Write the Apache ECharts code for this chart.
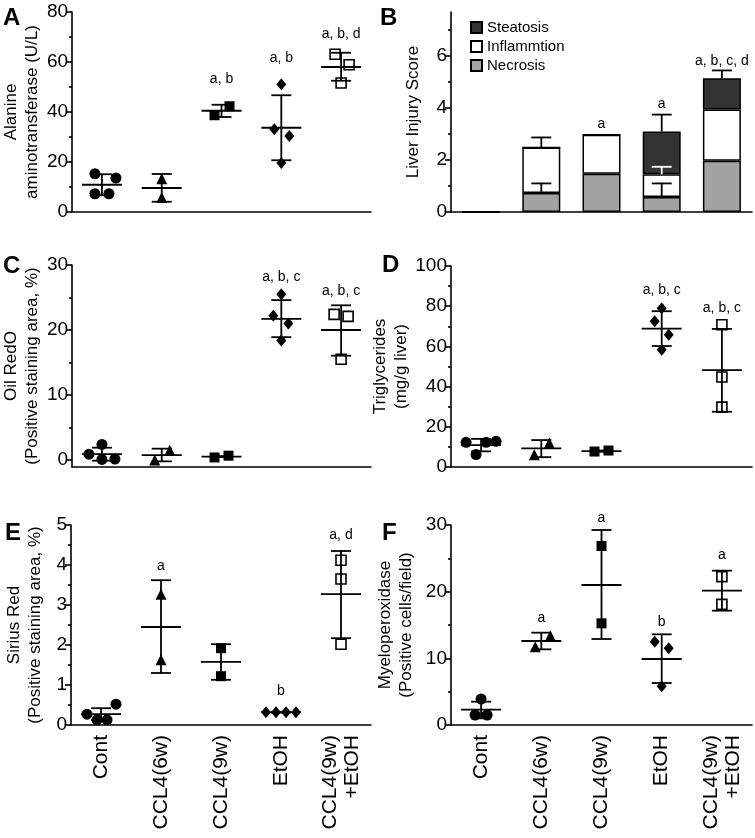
<!DOCTYPE html>
<html><head><meta charset="utf-8">
<script src="https://cdn.jsdelivr.net/npm/echarts@6/dist/echarts.min.js"></script>
<style>html,body{margin:0;padding:0;background:#fff}#c{width:755px;height:838px}</style>
</head><body><div id="c"></div>
<script>
// ---------------- DATA ----------------
const categories = ['Cont', 'CCL4(6w)', 'CCL4(9w)', 'EtOH', 'CCL4(9w)\n+EtOH'];

// A: Alanine aminotransferase (U/L)
const alt_points = [[15.3, 13.6, 7.3, 7.3], [13.3, 5.8], [38.7, 42.3], [51.1, 33.1, 30.4, 19.6], [63.1, 58.9, 51.6]];
const alt_mean  = [10.9, 9.6, 40.5, 33.7, 58.0];
const alt_upper = [15.1, 15.2, 42.9, 46.7, 63.7];
const alt_lower = [6.7, 4.1, 38.0, 20.7, 52.5];
const alt_sig   = ['', '', 'a, b', 'a, b', 'a, b, d'];
const alt_sigY  = [null, null, 53, 61.6, 71.3];
const alt_ticks = [0, 20, 40, 60, 80];
const alt_minor = [10, 30, 50, 70];

// B: Liver Injury Score (stacked)
const inj_necrosis     = [0, 0.73, 1.47, 0.58, 1.97];
const inj_inflammation = [0, 1.75, 1.50, 0.87, 1.98];
const inj_steatosis    = [0, 0, 0, 1.65, 1.20];
const inj_necrosis_err      = [null, 1.10, null, 1.10, null];
const inj_inflammation_err  = [null, null, null, 1.74, null];
const inj_total_err         = [null, 2.87, null, 3.75, 5.45];
const inj_sig   = ['', '', 'a', 'a', 'a, b, c, d'];
const inj_sigY  = [null, null, 3.4, 4.15, 5.8];
const inj_ticks = [0, 2, 4, 6];
const inj_minor = [1, 3, 5, 7];

// C: Oil RedO (Positive staining area, %)
const oil_points = [[0.9, 2.4, 0.1, 0.15], [0.0, 1.5], [0.4, 0.67], [25.5, 22.2, 21.0, 18.4], [22.4, 22.1, 15.5]];
const oil_mean  = [0.9, 0.77, 0.53, 21.7, 20.0];
const oil_upper = [1.9, 1.75, 0.6, 24.6, 23.8];
const oil_lower = [-0.1, -0.2, 0.45, 18.9, 16.05];
const oil_sig   = ['', '', '', 'a, b, c', 'a, b, c'];
const oil_sigY  = [null, null, null, 28.2, 26.0];
const oil_ticks = [0, 10, 20, 30];
const oil_minor = [5, 15, 25];

// D: Triglycerides (mg/g liver)
const tg_points = [[12.3, 6.2, 12.3, 12.8], [6.1, 12.0], [7.7, 8.2], [79, 72.5, 65.8, 58.3], [70.8, 44.8, 29.8]];
const tg_mean  = [10.9, 9.3, 7.9, 68.8, 48.2];
const tg_upper = [14.0, 13.4, 8.2, 77.5, 68.7];
const tg_lower = [7.8, 4.9, 7.6, 60.2, 27.5];
const tg_sig   = ['', '', '', 'a, b, c', 'a, b, c'];
const tg_sigY  = [null, null, null, 87.8, 79];
const tg_ticks = [0, 20, 40, 60, 80, 100];
const tg_minor = [10, 30, 50, 70, 90];

// E: Sirius Red (Positive staining area, %)
const sr_points = [[0.27, 0.13, 0.13, 0.52], [3.27, 1.63], [1.92, 1.22], [0.32, 0.32, 0.32, 0.32], [4.12, 3.65, 2.02]];
const sr_mean  = [0.27, 2.45, 1.58, 0.32, 3.27];
const sr_upper = [0.42, 3.62, 2.02, 0.33, 4.35];
const sr_lower = [0.12, 1.30, 1.13, 0.31, 2.17];
const sr_sig   = ['', 'a', '', 'b', 'a, d'];
const sr_sigY  = [null, 3.98, null, 0.85, 4.75];
const sr_ticks = [0, 1, 2, 3, 4, 5];
const sr_minor = [0.5, 1.5, 2.5, 3.5, 4.5];

// F: Myeloperoxidase (Positive cells/field)
const mpo_points = [[3.9, 1.5, 1.5], [11.75, 13.4], [26.85, 15.25], [12.5, 11.5, 5.8], [22.25, 18.1]];
const mpo_mean  = [2.3, 12.6, 21.0, 9.9, 20.15];
const mpo_upper = [3.5, 13.85, 29.25, 13.6, 23.15];
const mpo_lower = [1.0, 11.35, 12.9, 6.3, 17.15];
const mpo_sig   = ['', 'a', 'a', 'b', 'a'];
const mpo_sigY  = [null, 16, 31, 15.4, 25.5];
const mpo_ticks = [0, 10, 20, 30];
const mpo_minor = [5, 15, 25];

// ---------------- STYLE / LAYOUT ----------------
const FONT = '"Liberation Sans", Arial, Helvetica, sans-serif';
const INK = '#000000';
const LW = 1.8;

// horizontal spread of dots within a group (pixels)
const jitA = [[-7, 14, -7, 7], [0, 0], [-7, 8], [0, -7, 8, 0], [-6, 8, 0]];
const jitC = [[-13, 0, 0, 13], [-7, 8], [-7, 7], [0, -8, 7, 0], [-7, 7, 0]];
const jitD = [[-15, -5, 5, 15], [-7, 8], [-7, 7], [0, -7, 7, 0], [0, 0, 0]];
const jitE = [[-14, -4, 6, 15], [0, 0], [0, 0], [-15, -5, 5, 15], [0, 0, 0]];
const jitF = [[0, -6, 6], [-6, 9], [0, 0], [-7, 7, 0], [0, 0]];

const groupSymbols = [
  { symbol: 'circle', symbolSize: 11, itemStyle: { color: INK, opacity: 1 } },
  { symbol: 'triangle', symbolSize: 11, itemStyle: { color: INK, opacity: 1 } },
  { symbol: 'rect', symbolSize: 10, itemStyle: { color: INK, opacity: 1 } },
  { symbol: 'diamond', symbolSize: [10, 12], itemStyle: { color: INK, opacity: 1 } },
  { symbol: 'rect', symbolSize: 10, itemStyle: { color: 'rgba(0,0,0,0)', borderColor: INK, borderWidth: 1.6, opacity: 1 } }
];

const panels = [
  { letter: 'A', grid: { left: 71, top: 12, width: 300, height: 200 }, min: 0, max: 80, ticks: alt_ticks, minor: alt_minor,
    name: 'Alanine\naminotransferase (U/L)', nameGap: 24, pts: alt_points, mean: alt_mean, up: alt_upper, lo: alt_lower, sig: alt_sig, sigY: alt_sigY, jit: jitA, labels: false },
  { letter: 'B', grid: { left: 451, top: 12, width: 301, height: 200 }, min: 0, max: 7.7, ticks: inj_ticks, minor: inj_minor,
    name: 'Liver Injury Score', nameGap: 27, bars: true, sig: inj_sig, sigY: inj_sigY, labels: false },
  { letter: 'C', grid: { left: 71, top: 265, width: 300, height: 202 }, min: -1.07, max: 30, ticks: oil_ticks, minor: oil_minor,
    name: 'Oil RedO\n(Positive staining area, %)', nameGap: 25, pts: oil_points, mean: oil_mean, up: oil_upper, lo: oil_lower, sig: oil_sig, sigY: oil_sigY, jit: jitC, labels: false },
  { letter: 'D', grid: { left: 451, top: 266, width: 301, height: 201 }, min: 0, max: 100, ticks: tg_ticks, minor: tg_minor,
    name: 'Triglycerides\n(mg/g liver)', nameGap: 21, pts: tg_points, mean: tg_mean, up: tg_upper, lo: tg_lower, sig: tg_sig, sigY: tg_sigY, jit: jitD, labels: false },
  { letter: 'E', grid: { left: 71, top: 525, width: 300, height: 200 }, min: 0, max: 5, ticks: sr_ticks, minor: sr_minor,
    name: 'Sirius Red\n(Positive staining area, %)', nameGap: 25, pts: sr_points, mean: sr_mean, up: sr_upper, lo: sr_lower, sig: sr_sig, sigY: sr_sigY, jit: jitE, labels: true },
  { letter: 'F', grid: { left: 451, top: 525, width: 301, height: 200 }, min: 0, max: 30, ticks: mpo_ticks, minor: mpo_minor,
    name: 'Myeloperoxidase\n(Positive cells/field)', nameGap: 34, pts: mpo_points, mean: mpo_mean, up: mpo_upper, lo: mpo_lower, sig: mpo_sig, sigY: mpo_sigY, jit: jitF, labels: true }
];

const letterPos = [[3, 6], [380, 6], [3, 254], [382, 253], [5, 521], [382, 521]];

// ---------------- BUILD OPTION ----------------
const grids = [], xAxes = [], yAxes = [], series = [], titles = [];

function whiskerItem(x, yTop, yBot, half, color, capBottom) {
  const items = [{ type: 'line', shape: { x1: x, y1: yBot, x2: x, y2: yTop }, style: { stroke: color, lineWidth: LW } },
                 { type: 'line', shape: { x1: x - half, y1: yTop, x2: x + half, y2: yTop }, style: { stroke: color, lineWidth: LW } }];
  if (capBottom) items.push({ type: 'line', shape: { x1: x - half, y1: yBot, x2: x + half, y2: yBot }, style: { stroke: color, lineWidth: LW } });
  return items;
}

panels.forEach((p, i) => {
  grids.push(Object.assign({ containLabel: false }, p.grid));
  titles.push({ text: p.letter, left: letterPos[i][0], top: letterPos[i][1], padding: 0,
    textStyle: { fontSize: 24, fontWeight: 'bold', fontFamily: FONT, color: INK } });
  xAxes.push({
    type: 'category', gridIndex: i, data: categories, boundaryGap: true,
    axisLine: { onZero: false, lineStyle: { color: INK, width: 1.6 } },
    axisTick: { alignWithLabel: true, length: 5, lineStyle: { color: INK, width: 1.6 } },
    axisLabel: { show: p.labels, interval: 0, rotate: 90, fontSize: 21, lineHeight: 22, margin: 10, color: INK, fontFamily: FONT },
    splitLine: { show: false }
  });
  const ym = 2 * i;
  yAxes.push({
    type: 'value', gridIndex: i, position: 'left', min: p.min, max: p.max,
    axisLine: { show: true, lineStyle: { color: INK, width: 1.6 } },
    axisTick: { show: true, length: 6, customValues: p.ticks, lineStyle: { color: INK, width: 1.6 } },
    axisLabel: { customValues: p.ticks, fontSize: 19, margin: 4, color: INK, fontFamily: FONT },
    splitLine: { show: false },
    name: p.name, nameLocation: 'middle', nameGap: p.nameGap,
    nameTextStyle: { fontSize: 17, lineHeight: 21, color: INK, fontFamily: FONT }
  });
  yAxes.push({
    type: 'value', gridIndex: i, position: 'left', min: p.min, max: p.max,
    axisLine: { show: false },
    axisTick: { show: true, length: 3, customValues: p.minor, lineStyle: { color: INK, width: 1.6 } },
    axisLabel: { show: false }, splitLine: { show: false }
  });

  if (p.bars) {
    const stackDefs = [
      { name: 'Necrosis', data: inj_necrosis, color: '#a3a3a3' },
      { name: 'Inflammtion', data: inj_inflammation, color: '#ffffff' },
      { name: 'Steatosis', data: inj_steatosis, color: '#333333' }
    ];
    stackDefs.forEach(s => series.push({
      type: 'bar', name: s.name, stack: 'injury', xAxisIndex: i, yAxisIndex: ym, barWidth: 38,
      data: s.data, itemStyle: { color: s.color, borderColor: INK, borderWidth: 1.5, opacity: 1 }, z: 2
    }));
    const errData = [];
    categories.forEach((c, g) => {
      const b1 = inj_necrosis[g], b2 = b1 + inj_inflammation[g], b3 = b2 + inj_steatosis[g];
      if (inj_necrosis_err[g] != null) errData.push([g, b1, inj_necrosis_err[g], 0]);
      if (inj_inflammation_err[g] != null) errData.push([g, b2, inj_inflammation_err[g], inj_steatosis[g] > 0 ? 1 : 0]);
      if (inj_total_err[g] != null) errData.push([g, b3, inj_total_err[g], 0]);
    });
    series.push({
      type: 'custom', xAxisIndex: i, yAxisIndex: ym, z: 5, data: errData,
      renderItem: (params, api) => {
        const base = api.coord([api.value(0), api.value(1)]);
        const top = api.coord([api.value(0), api.value(2)]);
        const col = api.value(3) === 1 ? '#ffffff' : INK;
        return { type: 'group', children: whiskerItem(base[0], top[1], base[1], 10, col, false) };
      }
    });
  } else {
    p.pts.forEach((vals, g) => {
      const sym = groupSymbols[g];
      series.push({
        type: 'scatter', xAxisIndex: i, yAxisIndex: ym, clip: false, z: 3,
        symbol: sym.symbol, symbolSize: sym.symbolSize, itemStyle: sym.itemStyle,
        data: vals.map((v, k) => ({ value: [g, v], symbolOffset: [p.jit[g][k], 0] }))
      });
    });
    series.push({
      type: 'custom', xAxisIndex: i, yAxisIndex: ym, z: 5,
      data: p.mean.map((m, g) => [g, m, p.lo[g], p.up[g]]),
      renderItem: (params, api) => {
        const g = api.value(0);
        const m = api.coord([g, api.value(1)]);
        const lo = api.coord([g, api.value(2)]);
        const up = api.coord([g, api.value(3)]);
        const kids = [{ type: 'line', shape: { x1: m[0] - 20, y1: m[1], x2: m[0] + 20, y2: m[1] }, style: { stroke: INK, lineWidth: LW } }]
          .concat(whiskerItem(m[0], up[1], lo[1], 10, INK, true));
        return { type: 'group', children: kids };
      }
    });
  }

  // significance letters
  const sigList = [];
  p.sig.forEach((s, g) => { if (s) sigList.push({ g: g, y: p.sigY[g], t: s }); });
  series.push({
    type: 'custom', xAxisIndex: i, yAxisIndex: ym, z: 6,
    data: sigList.map(o => [o.g, o.y]),
    renderItem: (params, api) => {
      const pt = api.coord([api.value(0), api.value(1)]);
      return { type: 'text', x: pt[0], y: pt[1],
        style: { text: sigList[params.dataIndex].t, fill: INK, font: '14px ' + FONT, textAlign: 'center', textVerticalAlign: 'middle' } };
    }
  });
});

const option = {
  backgroundColor: '#ffffff',
  animation: false,
  title: titles,
  legend: {
    data: ['Steatosis', 'Inflammtion', 'Necrosis'], orient: 'vertical', left: 465, top: 15,
    itemWidth: 11, itemHeight: 11, itemGap: 4, icon: 'rect', selectedMode: false,
    textStyle: { fontSize: 15, fontFamily: FONT, color: INK }
  },
  grid: grids, xAxis: xAxes, yAxis: yAxes, series: series
};

const chart = echarts.init(document.getElementById('c'), null, { renderer: 'canvas' });
chart.setOption(option);
</script></body></html>
